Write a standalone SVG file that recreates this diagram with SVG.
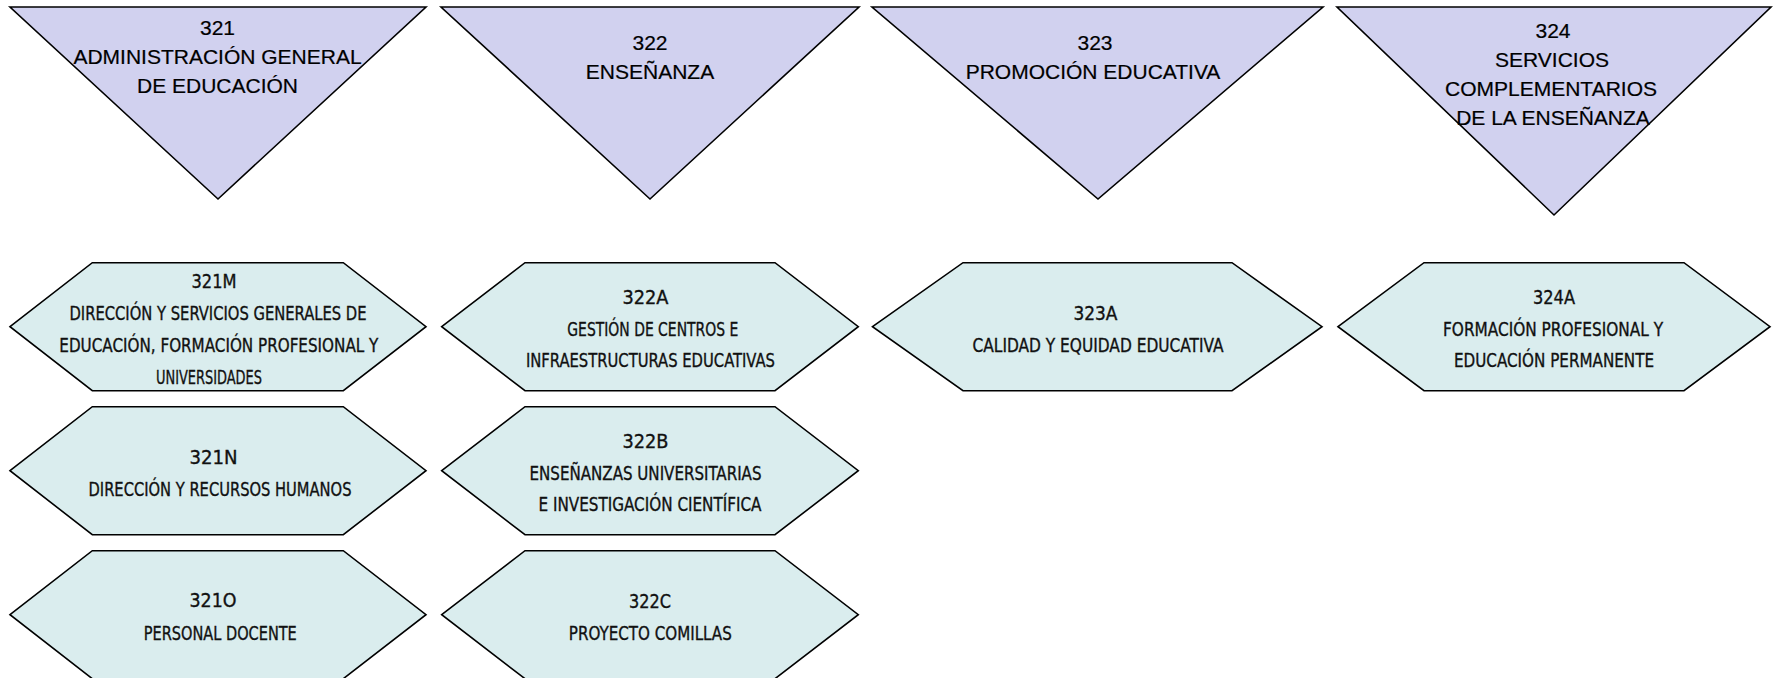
<svg xmlns="http://www.w3.org/2000/svg" width="1779" height="678" viewBox="0 0 1779 678">
<style>
.tri{fill:#D1D1EF;stroke:#000;stroke-width:1.6;stroke-linejoin:miter}
.hex{fill:#DAEDEE;stroke:#000;stroke-width:1.6;stroke-linejoin:miter}
.tt{font-family:"Liberation Sans",Arial,sans-serif;font-size:21px;fill:#000;stroke:#000;stroke-width:0.2;text-anchor:middle}
.ht{font-family:"Liberation Sans Narrow","DejaVu Sans Condensed","Liberation Sans",sans-serif;font-size:19.5px;fill:#111;stroke:#111;stroke-width:0.35;text-anchor:middle}
</style>
<rect width="1779" height="678" fill="#fff"/>
<g id="connectors"/>
<g id="n321">
<polygon class="tri" points="10,7 426,7 218,199"/>
<text class="tt" x="217.5" y="35">321</text>
<text class="tt" x="217.5" y="64">ADMINISTRACIÓN GENERAL</text>
<text class="tt" x="217.5" y="93">DE EDUCACIÓN</text>
</g>
<g id="n322">
<polygon class="tri" points="441,7 859,7 650,199"/>
<text class="tt" x="650" y="50">322</text>
<text class="tt" x="650" y="79">ENSEÑANZA</text>
</g>
<g id="n323">
<polygon class="tri" points="872,7 1323,7 1098,199"/>
<text class="tt" x="1095" y="50">323</text>
<text class="tt" x="1093" y="79">PROMOCIÓN EDUCATIVA</text>
</g>
<g id="n324">
<polygon class="tri" points="1337,7 1771,7 1554,215"/>
<text class="tt" x="1553" y="37.5">324</text>
<text class="tt" x="1552" y="66.5">SERVICIOS</text>
<text class="tt" x="1551" y="95.5">COMPLEMENTARIOS</text>
<text class="tt" x="1553" y="124.5">DE LA ENSEÑANZA</text>
</g>
<g id="n321M">
<polygon class="hex" points="10,326.7 92.3,262.7 343.3,262.7 426,326.7 343.3,390.7 92.3,390.7"/>
<text class="ht" x="214" y="288" textLength="45" lengthAdjust="spacingAndGlyphs">321M</text>
<text class="ht" x="218" y="320" textLength="297" lengthAdjust="spacingAndGlyphs">DIRECCIÓN Y SERVICIOS GENERALES DE</text>
<text class="ht" x="218.8" y="352" textLength="319" lengthAdjust="spacingAndGlyphs">EDUCACIÓN, FORMACIÓN PROFESIONAL Y</text>
<text class="ht" x="209" y="383.5" textLength="106" lengthAdjust="spacingAndGlyphs">UNIVERSIDADES</text>
</g>
<g id="n322A">
<polygon class="hex" points="441.7,326.7 525,262.7 775,262.7 858.3,326.7 775,390.7 525,390.7"/>
<text class="ht" x="645.5" y="303.5" textLength="46" lengthAdjust="spacingAndGlyphs">322A</text>
<text class="ht" x="652.8" y="336" textLength="171" lengthAdjust="spacingAndGlyphs">GESTIÓN DE CENTROS E</text>
<text class="ht" x="650.4" y="367" textLength="249" lengthAdjust="spacingAndGlyphs">INFRAESTRUCTURAS EDUCATIVAS</text>
</g>
<g id="n323A">
<polygon class="hex" points="872.5,326.7 963,262.7 1232,262.7 1322,326.7 1232,390.7 963,390.7"/>
<text class="ht" x="1095.4" y="319.5" textLength="44" lengthAdjust="spacingAndGlyphs">323A</text>
<text class="ht" x="1098" y="351.5" textLength="251" lengthAdjust="spacingAndGlyphs">CALIDAD Y EQUIDAD EDUCATIVA</text>
</g>
<g id="n324A">
<polygon class="hex" points="1338,326.7 1424,262.7 1684,262.7 1770,326.7 1684,390.7 1424,390.7"/>
<text class="ht" x="1554" y="303.5" textLength="42" lengthAdjust="spacingAndGlyphs">324A</text>
<text class="ht" x="1553" y="335.5" textLength="220" lengthAdjust="spacingAndGlyphs">FORMACIÓN PROFESIONAL Y</text>
<text class="ht" x="1554" y="367" textLength="200" lengthAdjust="spacingAndGlyphs">EDUCACIÓN PERMANENTE</text>
</g>
<g id="n321N">
<polygon class="hex" points="10,470.7 92.3,406.7 343.3,406.7 426,470.7 343.3,534.7 92.3,534.7"/>
<text class="ht" x="213.5" y="463.5" textLength="48" lengthAdjust="spacingAndGlyphs">321N</text>
<text class="ht" x="220" y="496" textLength="263" lengthAdjust="spacingAndGlyphs">DIRECCIÓN Y RECURSOS HUMANOS</text>
</g>
<g id="n322B">
<polygon class="hex" points="441.7,470.7 525,406.7 775,406.7 858.3,470.7 775,534.7 525,534.7"/>
<text class="ht" x="645.5" y="447.5" textLength="46" lengthAdjust="spacingAndGlyphs">322B</text>
<text class="ht" x="645.5" y="479.5" textLength="232" lengthAdjust="spacingAndGlyphs">ENSEÑANZAS UNIVERSITARIAS</text>
<text class="ht" x="650" y="511" textLength="223" lengthAdjust="spacingAndGlyphs">E INVESTIGACIÓN CIENTÍFICA</text>
</g>
<g id="n321O">
<polygon class="hex" points="10,614.7 92.3,550.7 343.3,550.7 426,614.7 343.3,678.7 92.3,678.7"/>
<text class="ht" x="213" y="607" textLength="47" lengthAdjust="spacingAndGlyphs">321O</text>
<text class="ht" x="220.3" y="639.5" textLength="153" lengthAdjust="spacingAndGlyphs">PERSONAL DOCENTE</text>
</g>
<g id="n322C">
<polygon class="hex" points="441.7,614.7 525,550.7 775,550.7 858.3,614.7 775,678.7 525,678.7"/>
<text class="ht" x="650" y="607.5" textLength="42" lengthAdjust="spacingAndGlyphs">322C</text>
<text class="ht" x="650.3" y="639.5" textLength="163" lengthAdjust="spacingAndGlyphs">PROYECTO COMILLAS</text>
</g>
</svg>
